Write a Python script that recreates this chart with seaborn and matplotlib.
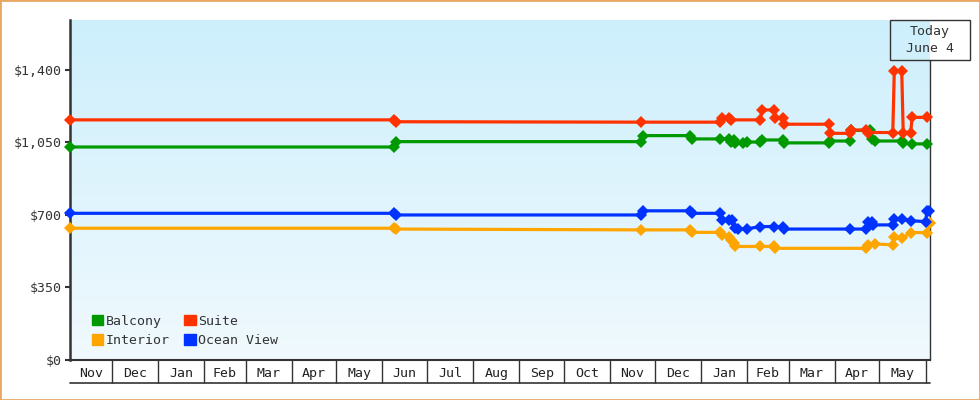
import numpy as np
import pandas as pd
import seaborn as sns
import matplotlib.pyplot as plt
import matplotlib.dates as mdates
from matplotlib.colors import LinearSegmentedColormap
from matplotlib.patches import Patch, Rectangle
from matplotlib.lines import Line2D
from matplotlib.ticker import FuncFormatter

sns.set_style("white")
plt.rcParams['font.family'] = ['DejaVu Sans Mono']

# ------------------------------------------------------------
# Cabin price history
# ------------------------------------------------------------
balcony_dates = ["2021-11-03", "2022-06-09", "2022-06-10", "2022-11-22", "2022-11-23",
                 "2022-12-25", "2022-12-26", "2023-01-14", "2023-01-20", "2023-01-21",
                 "2023-01-23", "2023-01-24", "2023-01-29", "2023-02-01", "2023-02-10",
                 "2023-02-11", "2023-02-25", "2023-02-26", "2023-03-28", "2023-03-29",
                 "2023-04-11", "2023-04-12", "2023-04-25", "2023-04-26", "2023-04-28",
                 "2023-05-16", "2023-05-17", "2023-05-23", "2023-06-02"]
balcony_prices = [1028, 1028, 1054, 1054, 1083, 1083, 1067, 1067, 1067, 1050,
                  1062, 1047, 1047, 1052, 1052, 1062, 1062, 1048, 1048, 1057,
                  1057, 1108, 1108, 1067, 1057, 1057, 1047, 1043, 1043]

suite_dates = ["2021-11-03", "2022-06-09", "2022-06-10", "2022-11-22", "2023-01-14",
               "2023-01-15", "2023-01-20", "2023-01-21", "2023-02-10", "2023-02-11",
               "2023-02-19", "2023-02-20", "2023-02-25", "2023-02-26", "2023-03-28",
               "2023-03-29", "2023-04-11", "2023-04-12", "2023-04-22", "2023-04-23",
               "2023-05-10", "2023-05-11", "2023-05-16", "2023-05-17", "2023-05-22",
               "2023-05-23", "2023-06-02"]
suite_prices = [1159, 1159, 1150, 1148, 1148, 1168, 1168, 1159, 1159, 1207,
                1207, 1168, 1168, 1138, 1138, 1094, 1094, 1110, 1110, 1098,
                1098, 1395, 1395, 1097, 1097, 1171, 1171]

ocean_dates = ["2021-11-03", "2022-06-09", "2022-06-10", "2022-11-22", "2022-11-23",
               "2022-12-25", "2022-12-26", "2023-01-14", "2023-01-15", "2023-01-20",
               "2023-01-22", "2023-01-24", "2023-01-26", "2023-02-01", "2023-02-10",
               "2023-02-19", "2023-02-25", "2023-02-26", "2023-04-11", "2023-04-22",
               "2023-04-23", "2023-04-26", "2023-04-27", "2023-05-10", "2023-05-11",
               "2023-05-16", "2023-05-22", "2023-06-01", "2023-06-02", "2023-06-03"]
ocean_prices = [708, 708, 700, 700, 720, 720, 708, 708, 676, 678,
                676, 635, 633, 633, 644, 644, 644, 632, 632, 632,
                667, 667, 652, 652, 682, 682, 672, 668, 717, 717]

interior_dates = ["2021-11-03", "2022-06-09", "2022-06-10", "2022-11-22", "2022-12-25",
                  "2022-12-26", "2023-01-14", "2023-01-15", "2023-01-20", "2023-01-21",
                  "2023-01-23", "2023-01-24", "2023-02-10", "2023-02-19", "2023-02-20",
                  "2023-04-22", "2023-04-23", "2023-04-28", "2023-05-10", "2023-05-11",
                  "2023-05-16", "2023-05-22", "2023-06-02", "2023-06-04"]
interior_prices = [636, 636, 632, 628, 628, 616, 616, 603, 595, 579,
                   563, 548, 548, 548, 539, 539, 556, 560, 556, 595,
                   587, 615, 615, 659]

month_labels = ["Nov", "Dec", "Jan", "Feb", "Mar", "Apr", "May", "Jun", "Jul", "Aug",
                "Sep", "Oct", "Nov", "Dec", "Jan", "Feb", "Mar", "Apr", "May"]
y_ticks = [0, 350, 700, 1050, 1400]

start = pd.Timestamp("2021-11-03")
today = pd.Timestamp("2023-06-04")
y_top = 1641

colors = {"Balcony": "#009900", "Suite": "#ff3300",
          "Interior": "#ffa500", "Ocean View": "#0033ff"}

# drawing order: red ends up on top
series = [("Interior", interior_dates, interior_prices),
          ("Ocean View", ocean_dates, ocean_prices),
          ("Balcony", balcony_dates, balcony_prices),
          ("Suite", suite_dates, suite_prices)]

# ------------------------------------------------------------
fig = plt.figure(figsize=(9.8, 4), dpi=100)
ax = fig.add_axes([70 / 980, 40 / 400, 860 / 980, 340 / 400])

for name, d, p in series:
    df = pd.DataFrame({"date": pd.to_datetime(d), "price": p})
    sns.lineplot(data=df, x="date", y="price", ax=ax, color=colors[name],
                 lw=2.3, marker="D", markersize=6, markeredgewidth=0,
                 estimator=None, clip_on=False, zorder=3)

# light blue gradient background
grad = np.linspace(0, 1, 256).reshape(-1, 1)
cmap = LinearSegmentedColormap.from_list("bg", ["#f0f9fe", "#cdeffc"])
ax.imshow(grad, cmap=cmap, aspect="auto", origin="lower", zorder=0,
          extent=[mdates.date2num(start), mdates.date2num(today), 0, y_top])

ax.set_xlim(start, today)
ax.set_ylim(0, y_top)
ax.set_xlabel("")
ax.set_ylabel("")

# y axis
ax.set_yticks(y_ticks)
ax.yaxis.set_major_formatter(FuncFormatter(lambda v, _: f"${v:,.0f}"))
ax.tick_params(axis="y", length=3.6, width=1.5, color="#333333",
               labelsize=9.5, labelcolor="#333333", pad=2, left=True)

# x axis: month boxes
month_starts = list(pd.date_range("2021-12-01", "2023-06-01", freq="MS"))
edges = [start] + month_starts + [today]
centers = [a + (b - a) / 2 for a, b in zip(edges[:-1], edges[1:])][:len(month_labels)]
ax.set_xticks(centers)
ax.set_xticklabels(month_labels)
ax.set_xticks(month_starts, minor=True)
ax.tick_params(axis="x", which="major", length=0, pad=5, labelsize=9.5,
               labelcolor="#222222")
ax.tick_params(axis="x", which="minor", length=16.6, width=1, color="#333333",
               direction="out", bottom=True)

for s in ["top", "right"]:
    ax.spines[s].set_visible(False)
ax.spines["left"].set_linewidth(1.8)
ax.spines["left"].set_color("#333333")
ax.spines["bottom"].set_linewidth(1.5)
ax.spines["bottom"].set_color("#333333")

fig.add_artist(Line2D([70 / 980, 930 / 980], [17 / 400, 17 / 400],
                      color="#333333", lw=1.2))

# today marker
ax.axvline(today, ymin=0, ymax=300 / 340, color="#333333", lw=1, clip_on=False)
fig.add_artist(Rectangle((890 / 980, 340 / 400), 80 / 980, 40 / 400,
                         transform=fig.transFigure, fill=False,
                         edgecolor="#333333", lw=1))
fig.text(930 / 980, 0.9, "Today\nJune 4", ha="center", va="center",
         fontsize=9.5, color="#333333", linespacing=1.45)

# legend
handles = [Patch(color=colors["Balcony"], label="Balcony"),
           Patch(color=colors["Interior"], label="Interior"),
           Patch(color=colors["Suite"], label="Suite"),
           Patch(color=colors["Ocean View"], label="Ocean View")]
ax.legend(handles=handles, ncol=2, loc="lower left", bbox_to_anchor=(0.018, 0.018),
          frameon=False, fontsize=9.5, handlelength=0.85, handleheight=0.85,
          handletextpad=0.2, columnspacing=1.1, labelspacing=0.5, borderpad=0,
          labelcolor="#333333")

# outer border
fig.add_artist(Rectangle((0, 0), 1, 1, transform=fig.transFigure, fill=False,
                         edgecolor="#e8a862", lw=2))

fig.savefig("out.png", dpi=100)
